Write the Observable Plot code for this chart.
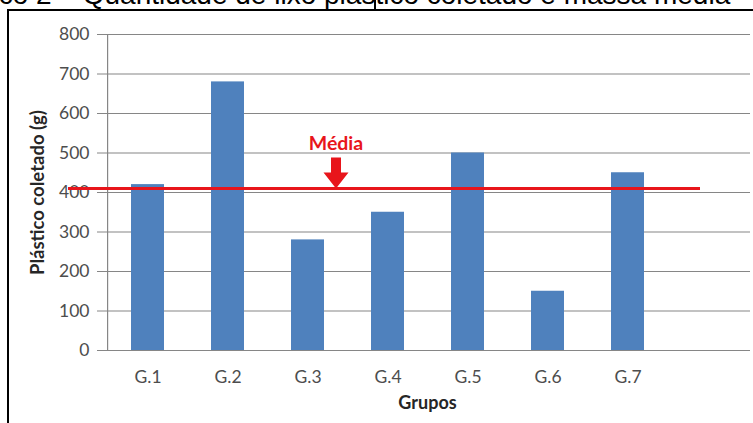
<!DOCTYPE html>
<html>
<head>
<meta charset="utf-8">
<script src="https://cdn.jsdelivr.net/npm/d3@7"></script>
<script src="https://cdn.jsdelivr.net/npm/@observablehq/plot@0.6"></script>
<style>
  html, body { margin: 0; padding: 0; background: #fff; overflow: hidden; }
  body { width: 753px; height: 423px; position: relative; }
  #title { position: absolute; left: -62px; top: -19px; white-space: nowrap;
           font-family: "Liberation Sans", Arial, sans-serif; font-size: 28px; line-height: 28px; color: #000; }
  #vbar { position: absolute; left: 374px; top: 0; width: 2px; height: 10px; background: #000; }
  #box { position: absolute; left: 7px; top: 9px; width: 800px; height: 500px; border: 2px solid #000; background: #fff; }
  #chart { position: absolute; left: 9px; top: 11px; }
</style>
</head>
<body>
<div id="title">Gráfico 2 – Quantidade de lixo plástico coletado e massa média</div>
<div id="vbar"></div>
<div id="box"></div>
<div id="chart"></div>
<script>
const grupos = ["G.1", "G.2", "G.3", "G.4", "G.5", "G.6", "G.7"];
const plastico = [420, 680, 280, 350, 500, 150, 450];
const media = 410;
const yTicks = [0, 100, 200, 300, 400, 500, 600, 700, 800];
const xDomain = [...grupos, ""];

const data = grupos.map((g, i) => ({grupo: g, valor: plastico[i]}));
const grey = "#868686";
const red = "#e8151b";
const font = "Lato, 'Open Sans', sans-serif";

const blockArrow = {
  draw(context, l) {
    const hw = 12.5, sw = 5, hl = 16;
    context.moveTo(-sw, 0);
    context.lineTo(-sw, -l + hl);
    context.lineTo(-hw, -l + hl);
    context.lineTo(0, -l);
    context.lineTo(hw, -l + hl);
    context.lineTo(sw, -l + hl);
    context.lineTo(sw, 0);
    context.closePath();
  }
};

const chart = Plot.plot({
  width: 744,
  height: 412,
  marginTop: 23,
  marginBottom: 73,
  marginLeft: 95,
  marginRight: 3,
  style: {fontFamily: font, background: "transparent", overflow: "visible"},
  x: {domain: xDomain, type: "band", paddingInner: 0.59, paddingOuter: 0.295, axis: null},
  y: {domain: [0, 800], axis: null},
  marks: [
    Plot.gridY(yTicks, {stroke: grey, strokeOpacity: 1, strokeWidth: 1.2}),
    Plot.barY(data, {x: "grupo", y: "valor", fill: "#4f81bd"}),
    Plot.ruleY([0], {stroke: grey, strokeWidth: 1.2}),
    Plot.ruleX(["G.1"], {y1: 0, y2: 800, dx: -40.4, stroke: grey, strokeWidth: 1.2}),
    Plot.axisY(yTicks, {tickSize: 7, tickPadding: 8, stroke: grey, strokeOpacity: 1, fill: "#4d4d4d", fontSize: 17.5, label: null}),
    Plot.axisX(xDomain, {tickSize: 0, tickPadding: 20, fill: "#4d4d4d", fontSize: 17.5, label: null}),
    Plot.text(["Grupos"], {frameAnchor: "bottom", dy: 58, fontSize: 18, fontWeight: "bold", fill: "#262626"}),
    Plot.text(["Plástico coletado (g)"], {frameAnchor: "left", textAnchor: "middle", dx: -66, rotate: -90, fontSize: 18.5, fontWeight: "bold", fill: "#262626"}),
    Plot.ruleY([media], {stroke: red, strokeWidth: 3, insetLeft: -36, insetRight: 50}),
    Plot.vector([media], {x: () => "G.3", y: d => d, dx: 28, length: 31, rotate: 180, anchor: "end", shape: blockArrow, fill: red, stroke: "none"}),
    Plot.text(["Média"], {x: () => "G.3", y: () => media, dx: 28, dy: -45, fontSize: 19.5, fontWeight: "bold", fill: red})
  ]
});
document.getElementById("chart").appendChild(chart);
</script>
</body>
</html>
